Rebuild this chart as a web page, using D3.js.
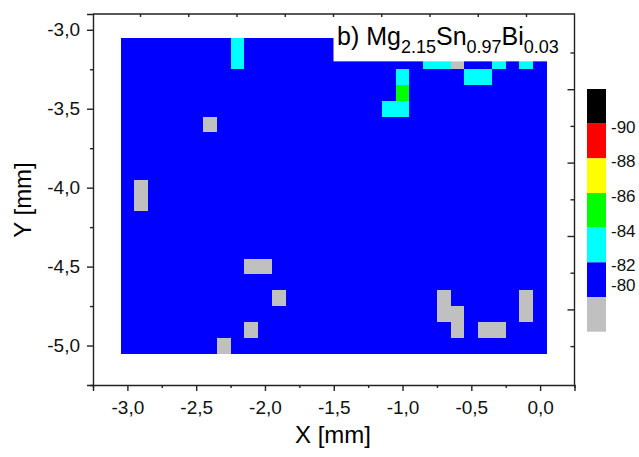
<!DOCTYPE html>
<html>
<head>
<meta charset="utf-8">
<script src="https://cdn.jsdelivr.net/npm/d3@7"></script>
<style>
  body { margin: 0; background: #fff; }
  svg { font-family: "Liberation Sans", Arial, sans-serif; }
</style>
</head>
<body>
<div id="chart"></div>
<script>
(function()
{
    var width = 639;
    var height = 457;

    // grid positions of the map (mm)
    var xValues = [-3.0, -2.9, -2.8, -2.7, -2.6, -2.5, -2.4, -2.3, -2.2, -2.1, -2.0,
                   -1.9, -1.8, -1.7, -1.6, -1.5, -1.4, -1.3, -1.2, -1.1, -1.0,
                   -0.9, -0.8, -0.7, -0.6, -0.5, -0.4, -0.3, -0.2, -0.1, 0.0];
    var yValues = [-3.1, -3.2, -3.3, -3.4, -3.5, -3.6, -3.7, -3.8, -3.9, -4.0,
                   -4.1, -4.2, -4.3, -4.4, -4.5, -4.6, -4.7, -4.8, -4.9, -5.0];

    // one string per row (top to bottom), one letter per column (left to right)
    // S = above -80, B = -80..-82, C = -82..-84, G = -84..-86
    var rows = [
        "BBBBBBBBCBBBBBBBBBBBBBBBBBBBBBB",
        "BBBBBBBBCBBBBBBBBBBBBBCCSBBCBCB",
        "BBBBBBBBBBBBBBBBBBBBCBBBBCCBBBB",
        "BBBBBBBBBBBBBBBBBBBBGBBBBBBBBBB",
        "BBBBBBBBBBBBBBBBBBBCCBBBBBBBBBB",
        "BBBBBBSBBBBBBBBBBBBBBBBBBBBBBBB",
        "BBBBBBBBBBBBBBBBBBBBBBBBBBBBBBB",
        "BBBBBBBBBBBBBBBBBBBBBBBBBBBBBBB",
        "BBBBBBBBBBBBBBBBBBBBBBBBBBBBBBB",
        "BSBBBBBBBBBBBBBBBBBBBBBBBBBBBBB",
        "BSBBBBBBBBBBBBBBBBBBBBBBBBBBBBB",
        "BBBBBBBBBBBBBBBBBBBBBBBBBBBBBBB",
        "BBBBBBBBBBBBBBBBBBBBBBBBBBBBBBB",
        "BBBBBBBBBBBBBBBBBBBBBBBBBBBBBBB",
        "BBBBBBBBBSSBBBBBBBBBBBBBBBBBBBB",
        "BBBBBBBBBBBBBBBBBBBBBBBBBBBBBBB",
        "BBBBBBBBBBBSBBBBBBBBBBBSBBBBBSB",
        "BBBBBBBBBBBBBBBBBBBBBBBSSBBBBSB",
        "BBBBBBBBBSBBBBBBBBBBBBBBSBSSBBB",
        "BBBBBBBSBBBBBBBBBBBBBBBBBBBBBBB"
    ];
    var codeValue = {"S": -79, "B": -81, "C": -83, "G": -85, "Y": -87, "R": -89, "K": -91};

    var levels = [-90, -88, -86, -84, -82, -80];
    var levelColors = ["#000000", "#ff0000", "#ffff00", "#00ff00", "#00ffff", "#0000ff", "#c0c0c0"];
    var levelLabels = ["-90", "-88", "-86", "-84", "-82", "-80"];

    var xTicks = [-3.0, -2.5, -2.0, -1.5, -1.0, -0.5, 0.0];
    var xMinor = [-3.25, -2.75, -2.25, -1.75, -1.25, -0.75, -0.25, 0.25];
    var yTicks = [-3.0, -3.5, -4.0, -4.5, -5.0];
    var yMinor = [-3.25, -3.75, -4.25, -4.75, -5.25];

    var cells = [];
    rows.forEach(function(row, r) {
        row.split("").forEach(function(code, c) {
            cells.push({x: xValues[c], y: yValues[r], value: codeValue[code]});
        });
    });

    var svg = d3.select("#chart").append("svg")
        .attr("width", width)
        .attr("height", height);

    var x = d3.scaleLinear().domain([-3.25, 0.25]).range([93, 574.5]);
    var y = d3.scaleLinear().domain([-5.25, -2.9]).range([385, 14]);
    var color = d3.scaleThreshold().domain(levels).range(levelColors);

    var fmt = function(d) { return d.toFixed(1).replace(".", ","); };

    // map cells
    var cw = x(0.1) - x(0);
    var ch = y(0) - y(0.1);
    svg.append("g").attr("shape-rendering", "crispEdges")
        .selectAll("rect").data(cells)
        .enter().append("rect")
        .attr("x", function(d) { return x(d.x) - cw / 2; })
        .attr("y", function(d) { return y(d.y) - ch / 2; })
        .attr("width", cw + 0.5)
        .attr("height", ch + 0.5)
        .attr("fill", function(d) { return color(d.value); });

    // white title box over the top right of the map
    svg.append("rect")
        .attr("x", 333.5).attr("y", 14)
        .attr("width", 240).attr("height", y(-3.2) - 14)
        .attr("fill", "#fff");

    var title = svg.append("text")
        .attr("x", 337).attr("y", 45)
        .attr("font-size", 25)
        .attr("fill", "#000");
    var parts = [["b) Mg", false], ["2.15", true], ["Sn", false], ["0.97", true], ["Bi", false], ["0.03", true]];
    parts.forEach(function(p) {
        title.append("tspan")
            .attr("font-size", p[1] ? 18 : 25)
            .attr("dy", p[1] ? 8 : -8)
            .text(p[0]);
    });
    title.select("tspan").attr("dy", 0);

    // axes
    var axisColor = "#222";
    svg.append("g").attr("transform", "translate(0,385)")
        .call(d3.axisBottom(x).tickValues(xTicks).tickFormat(fmt).tickSize(6).tickPadding(10));
    svg.append("g").attr("transform", "translate(0,385)")
        .call(d3.axisBottom(x).tickValues(xMinor).tickFormat("").tickSize(3))
        .select(".domain").remove();
    svg.append("g").attr("transform", "translate(93,0)")
        .call(d3.axisLeft(y).tickValues(yTicks).tickFormat(fmt).tickSize(6).tickPadding(7));
    svg.append("g").attr("transform", "translate(93,0)")
        .call(d3.axisLeft(y).tickValues(yMinor).tickFormat("").tickSize(3))
        .select(".domain").remove();

    // frame top and right (ticks belong to another layer in the original)
    var topFrame = d3.scaleLinear().domain([0, 8]).range([140, 526]);
    svg.append("g").attr("transform", "translate(0,14)")
        .call(d3.axisTop(topFrame).tickValues([0, 1, 2, 3, 4, 5, 6, 7, 8]).tickFormat("").tickSize(-3))
        .select(".domain").remove();
    var rightFrame = d3.scaleLinear().domain([0, 9]).range([52.5, 382.8]);
    svg.append("g").attr("transform", "translate(574.5,0)")
        .call(d3.axisRight(rightFrame).tickValues([1, 3, 5, 7]).tickFormat("").tickSize(-7))
        .select(".domain").remove();
    svg.append("g").attr("transform", "translate(574.5,0)")
        .call(d3.axisRight(rightFrame).tickValues([0, 2, 4, 6, 8]).tickFormat("").tickSize(-4))
        .select(".domain").remove();
    svg.append("path")
        .attr("d", "M93,14H574.5V385")
        .attr("fill", "none")
        .attr("stroke", axisColor)
        .attr("stroke-width", 1.4);

    svg.selectAll(".domain, .tick line").attr("stroke", axisColor).attr("stroke-width", 1.4);
    svg.selectAll(".tick text").attr("font-size", 19).attr("fill", "#111")
        .attr("font-family", "Liberation Sans, Arial, sans-serif");

    svg.append("text")
        .attr("x", 333).attr("y", 443)
        .attr("text-anchor", "middle")
        .attr("font-size", 24)
        .text("X [mm]");
    svg.append("text")
        .attr("transform", "translate(31,200) rotate(-90)")
        .attr("text-anchor", "middle")
        .attr("font-size", 24)
        .text("Y [mm]");

    // color bar
    var cbar = d3.scaleLinear().domain([-78, -92]).range([331.7, 89]);
    var bins = [-92].concat(levels).concat([-78]);
    var cb = svg.append("g");
    cb.selectAll("rect").data(levelColors)
        .enter().append("rect")
        .attr("x", 587)
        .attr("y", function(d, i) { return cbar(bins[i]); })
        .attr("width", 19)
        .attr("height", function(d, i) { return cbar(bins[i + 1]) - cbar(bins[i]); })
        .attr("fill", function(d) { return d; });
    // labels sit just below their boundary, the last one above it
    cb.selectAll("text").data(levels)
        .enter().append("text")
        .attr("x", 611)
        .attr("y", function(d) { return d === -80 ? cbar(d) - 12 : cbar(d) + 3; })
        .attr("dy", "0.35em")
        .attr("font-size", 17)
        .attr("fill", "#111")
        .text(function(d, i) { return levelLabels[i]; });

})();
</script>
</body>
</html>
